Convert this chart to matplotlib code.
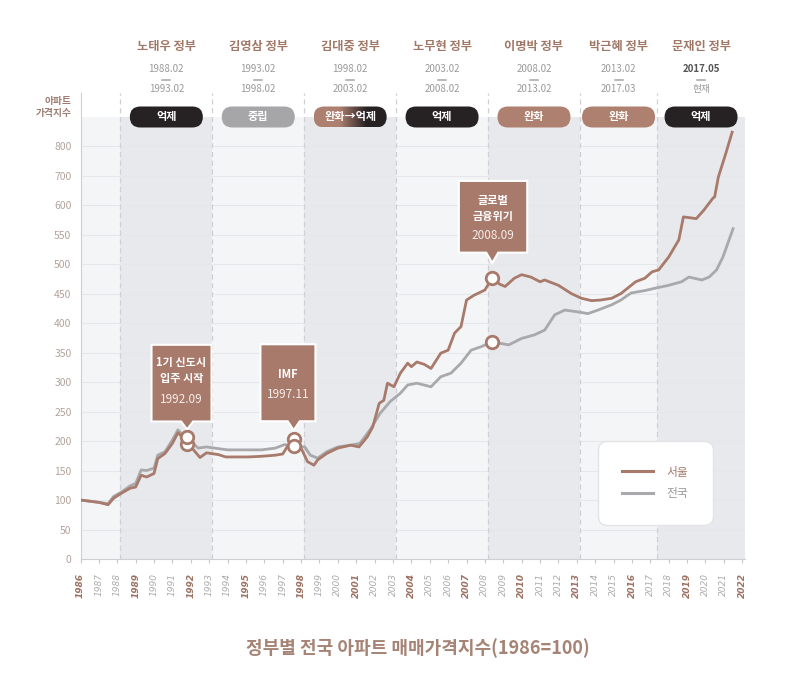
import numpy as np
import matplotlib
matplotlib.use('Agg')
import matplotlib.pyplot as plt
import matplotlib.transforms as mtransforms
from matplotlib.patches import FancyBboxPatch, Polygon
from matplotlib.colors import LinearSegmentedColormap
from matplotlib.lines import Line2D

plt.rcParams['font.family'] = ['Noto Sans CJK KR', 'DejaVu Sans']

# ---------------- data ----------------
seoul_year = [1986.0, 1986.5, 1987.0, 1987.5, 1987.8, 1988.2, 1988.7, 1989.0, 1989.3, 1989.6,
              1990.0, 1990.2, 1990.6, 1991.0, 1991.3, 1991.5, 1991.8, 1992.15, 1992.5, 1992.85,
              1993.5, 1993.9, 1994.5, 1995.1, 1995.8, 1996.6, 1997.0, 1997.3, 1997.6, 1998.0,
              1998.35, 1998.7, 1998.9, 1999.4, 2000.0, 2000.7, 2001.15, 2001.6, 2001.9, 2002.25,
              2002.5, 2002.7, 2003.05, 2003.4, 2003.8, 2004.0, 2004.3, 2004.7, 2005.07, 2005.6,
              2006.0, 2006.35, 2006.7, 2007.0, 2007.4, 2008.0, 2008.4, 2008.8, 2009.1, 2009.6,
              2010.0, 2010.5, 2011.0, 2011.25, 2012.0, 2012.7, 2013.25, 2013.8, 2014.3, 2014.9,
              2015.4, 2016.2, 2016.7, 2017.1, 2017.45, 2018.0, 2018.55, 2018.8, 2019.5, 2019.9,
              2020.4, 2020.5, 2020.7, 2021.1, 2021.45]
seoul_index = [100, 98, 96, 92, 103, 111, 120, 122, 142, 139,
               145, 170, 179, 196, 214, 208, 195, 185, 172, 180,
               177, 173, 173, 173, 174, 176, 178, 193, 203, 188,
               165, 159, 168, 179, 188, 193, 190, 207, 224, 264,
               269, 298, 292, 315, 332, 326, 334, 330, 323, 349,
               354, 383, 394, 439, 447, 456, 477, 466, 462, 476,
               482, 478, 470, 473, 464, 450, 442, 438, 439, 442,
               450, 470, 476, 487, 490, 512, 541, 580, 577, 591,
               623, 628, 695, 774, 847]

nation_year = [1986.0, 1986.5, 1987.0, 1987.5, 1987.8, 1988.2, 1988.7, 1989.0, 1989.3, 1989.6,
               1990.0, 1990.2, 1990.6, 1991.0, 1991.3, 1991.5, 1991.8, 1992.4, 1992.85, 1993.3,
               1994.0, 1995.0, 1995.85, 1996.6, 1997.1, 1997.6, 1998.2, 1998.5, 1998.9, 1999.4,
               2000.0, 2000.7, 2001.2, 2001.75, 2002.3, 2002.85, 2003.4, 2003.8, 2004.3, 2005.07,
               2005.6, 2006.15, 2006.7, 2007.25, 2007.8, 2008.4, 2009.3, 2010.0, 2010.7, 2011.25,
               2011.8, 2012.35, 2013.05, 2013.6, 2014.15, 2014.9, 2015.4, 2015.95, 2016.7, 2017.25,
               2018.0, 2018.7, 2019.1, 2019.8, 2020.2, 2020.6, 2020.95, 2021.5]
nation_index = [100, 98, 96, 94, 106, 113, 124, 128, 151, 150,
                154, 176, 182, 202, 219, 212, 206, 188, 190, 188,
                185, 185, 185, 188, 194, 191, 190, 176, 171, 182,
                190, 193, 196, 219, 247, 267, 281, 295, 298, 292,
                309, 315, 332, 354, 360, 368, 363, 374, 380, 388,
                414, 422, 419, 416, 422, 431, 439, 451, 455, 459,
                464, 470, 478, 473, 478, 490, 512, 560]

gov_names = ['노태우 정부', '김영삼 정부', '김대중 정부', '노무현 정부',
             '이명박 정부', '박근혜 정부', '문재인 정부']
gov_start_label = ['1988.02', '1993.02', '1998.02', '2003.02', '2008.02', '2013.02', '2017.05']
gov_end_label = ['1993.02', '1998.02', '2003.02', '2008.02', '2013.02', '2017.03', '현재']
gov_start = [1988.17, 1993.17, 1998.17, 2003.17, 2008.17, 2013.17, 2017.37]
gov_end = [1993.17, 1998.17, 2003.17, 2008.17, 2013.17, 2017.37, 2022.15]
gov_policy = ['억제', '중립', '완화→억제', '억제', '완화', '완화', '억제']

event_year = [1991.8, 1997.6, 2008.4]
event_title = ['1기 신도시\n입주 시작', 'IMF', '글로벌\n금융위기']
event_date = ['1992.09', '1997.11', '2008.09']

y_ticks = [0, 50, 100, 150, 200, 250, 300, 350, 400, 450, 500, 550, 600, 700, 800]
x_years = list(range(1986, 2023))

# ---------------- style ----------------
SEOUL = '#a87a6b'
NATION = '#a9a9ab'
BG = '#f4f5f7'
SHADE = '#e8e9ec'
DARK = '#262122'
PILL_GRAY = '#a6a6a8'
PILL_BROWN = '#ad8070'
HEAD = '#a07868'
policy_color = {'억제': DARK, '중립': PILL_GRAY, '완화': PILL_BROWN}

fig = plt.figure(figsize=(7.91, 6.73), dpi=100)
ax = fig.add_axes([80.5 / 791, (673 - 559) / 673, 664.5 / 791, 466 / 673])


def fwd(v):
    v = np.asarray(v, float)
    return np.where(v <= 600, v, 600 + (v - 600) / 2.0)


def inv(t):
    t = np.asarray(t, float)
    return np.where(t <= 600, t, 600 + (t - 600) * 2.0)


ax.set_yscale('function', functions=(fwd, inv))
XMIN, XMAX = 1986.0, 2022.15
YMAX = 980
ax.set_facecolor('white')
BG_TOP = 0.9485

# backgrounds
ax.axvspan(XMIN, XMAX, ymin=0, ymax=BG_TOP, color=BG, zorder=0, lw=0)
for i, (s, e) in enumerate(zip(gov_start, gov_end)):
    if i % 2 == 0:
        ax.axvspan(s, e, ymin=0, ymax=BG_TOP, color=SHADE, zorder=0.5, lw=0)

# grid
for yt in y_ticks[1:]:
    ax.plot([XMIN, XMAX], [yt, yt], color='#e6e7ea', lw=0.8, zorder=1)

# boundaries
for s in gov_start:
    ax.axvline(s, ymin=0, ymax=1, color='#cfd0d4', lw=0.9, ls=(0, (4, 3)), zorder=1.5)

# lines
ax.plot(nation_year, nation_index, color=NATION, lw=2.0, zorder=3, label='전국',
        solid_joinstyle='round')
ax.plot(seoul_year, seoul_index, color=SEOUL, lw=2.0, zorder=4, label='서울',
        solid_joinstyle='round')

ax.set_xlim(XMIN, XMAX)
ax.set_ylim(0, YMAX)

# axes styling
for sp in ['top', 'right']:
    ax.spines[sp].set_visible(False)
ax.spines['left'].set_color('#cfcfd2')
ax.spines['bottom'].set_color('#cfcfd2')
ax.set_yticks(y_ticks)
ax.set_yticklabels([str(v) for v in y_ticks])
ax.tick_params(axis='y', length=0, pad=6.5, labelsize=7.5, labelcolor='#b3a29b')
ax.set_xticks(x_years)
ax.set_xticklabels([str(y) for y in x_years], rotation=90,
                   fontfamily='DejaVu Sans', fontstyle='italic', fontsize=6.5)
ax.tick_params(axis='x', length=3, width=0.8, color='#c8c8cb', pad=7)
for i, lab in enumerate(ax.get_xticklabels()):
    if i % 3 == 0:
        lab.set_color('#9d7262')
        lab.set_fontweight('bold')
    else:
        lab.set_color('#ababab')

# header: government names, dates, policy pills
blend = mtransforms.blended_transform_factory(ax.transData, ax.transAxes)
grad_cmap = LinearSegmentedColormap.from_list(
    'g', [(0, PILL_BROWN), (0.35, PILL_BROWN), (0.72, DARK), (1, DARK)])
for i, (name, s0, s1, pol) in enumerate(zip(gov_names, gov_start_label, gov_end_label, gov_policy)):
    cx = (gov_start[i] + gov_end[i]) / 2.0
    ax.text(cx, 1.0994, name, transform=blend, ha='center', va='center', fontsize=8.8,
            fontweight='bold', color=HEAD, clip_on=False)
    last = (i == len(gov_names) - 1)
    ax.text(cx, 1.0505, s0, transform=blend, ha='center', va='center', fontsize=7,
            color='#555555' if last else '#9a9a9a', fontweight='bold' if last else 'normal',
            clip_on=False)
    dtr = mtransforms.Affine2D() + mtransforms.ScaledTranslation(cx, 1.0279, blend)
    ax.plot([-4, 4], [0, 0], color='#a5a5a5', lw=1.1, transform=dtr, clip_on=False)
    ax.text(cx, 1.0085, s1, transform=blend, ha='center', va='center', fontsize=7,
            color='#9a9a9a', clip_on=False)
    ptrans = mtransforms.Affine2D() + mtransforms.ScaledTranslation(cx, BG_TOP, blend)
    w, h = 73, 21
    if pol in policy_color:
        pill = FancyBboxPatch((-w / 2, -h / 2), w, h, boxstyle='round,pad=0,rounding_size=10.5',
                              transform=ptrans, facecolor=policy_color[pol], edgecolor='none',
                              zorder=8, clip_on=False)
        ax.add_patch(pill)
    else:
        pill = FancyBboxPatch((-w / 2, -h / 2), w, h, boxstyle='round,pad=0,rounding_size=10.5',
                              transform=ptrans, facecolor='none', edgecolor='none',
                              zorder=8, clip_on=False)
        ax.add_patch(pill)
        grad = np.linspace(0, 1, 200).reshape(1, -1)
        im = ax.imshow(grad, extent=(-w / 2, w / 2, -h / 2, h / 2), transform=ptrans,
                       cmap=grad_cmap, aspect='auto', zorder=8, interpolation='bilinear')
        im.set_clip_path(pill)
    ax.text(0, 0, pol, transform=ptrans, ha='center', va='center', fontsize=8,
            fontweight='bold', color='white', zorder=9, clip_on=False)

ax.set_xlim(XMIN, XMAX)
ax.set_ylim(0, YMAX)

# events
box_geom = [(-35.6, 24.4, 16, 92.7, 8), (-33.3, 21.7, 18, 95, 9), (-33.4, 35, 25, 96.7, 14.7)]
title_off = [66.8, 65, 69.2]
date_off = [37.7, 45, 41.7]
for k, ex in enumerate(event_year):
    sv = float(np.interp(ex, seoul_year, seoul_index))
    nv = float(np.interp(ex, nation_year, nation_index))
    ax.plot([ex, ex], [sv, nv], 'o', ms=9, mfc='white', mec=SEOUL, mew=2, zorder=7, ls='none')
    top = max(sv, nv)
    tr = mtransforms.Affine2D() + mtransforms.ScaledTranslation(ex, top, ax.transData)
    x0, x1, yb, yt, ytip = box_geom[k]
    poly = Polygon([(x0, yb), (-6, yb), (0, ytip), (6, yb), (x1, yb), (x1, yt), (x0, yt)],
                   closed=True, transform=tr, facecolor='#a87a6b', edgecolor='white', lw=1.5,
                   zorder=6, clip_on=False)
    ax.add_patch(poly)
    cxb = (x0 + x1) / 2
    ax.text(cxb, title_off[k], event_title[k], transform=tr, ha='center', va='center',
            fontsize=8, fontweight='bold', color='white', linespacing=1.35, zorder=7)
    ax.text(cxb, date_off[k], event_date[k], transform=tr, ha='center', va='center',
            fontsize=8.5, color='#f6ece8', zorder=7)

# legend
handles = [Line2D([], [], color=SEOUL, lw=2.2), Line2D([], [], color=NATION, lw=2.2)]
leg = ax.legend(handles, ['서울', '전국'], loc='center', bbox_to_anchor=(0.8646, 0.163),
                fontsize=8.5, handlelength=2.6, handletextpad=1.1, borderpad=1.8,
                labelspacing=0.75, frameon=True, fancybox=True, facecolor='white',
                edgecolor='#e4e4e6', framealpha=1, borderaxespad=0)
leg.get_frame().set_boxstyle('round,pad=0.3,rounding_size=0.8')
leg.set_zorder(10)
for txt, c in zip(leg.get_texts(), [SEOUL, '#9a9a9a']):
    txt.set_color(c)

# y-axis label and title
fig.text(72 / 791, 1 - 101 / 673, '아파트', ha='right', va='center', fontsize=7,
         fontweight='bold', color='#9e7e72')
fig.text(72 / 791, 1 - 113 / 673, '가격지수', ha='right', va='center', fontsize=7,
         fontweight='bold', color='#9e7e72')
fig.text(417.5 / 791, 1 - 648 / 673, '정부별 전국 아파트 매매가격지수(1986=100)', ha='center',
         va='center', fontsize=13, fontweight='bold', color='#a58476')

fig.savefig('out.png', dpi=100, facecolor='white')
